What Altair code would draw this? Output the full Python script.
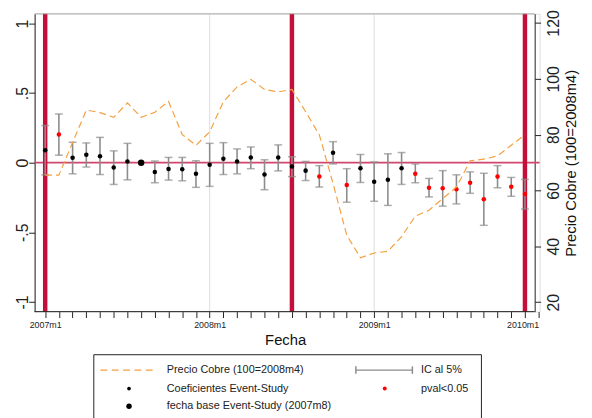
import altair as alt
import pandas as pd

# ---------------- data ----------------
months = list(range(36))  # 0 = 2007m1
coef = [0.09, 0.203, 0.035, 0.057, 0.047, -0.035, 0.009, 0.0, -0.066, -0.045,
        -0.047, -0.08, -0.014, 0.028, 0.009, 0.038, -0.085, 0.038, -0.027, -0.057,
        -0.099, 0.071, -0.161, -0.04, -0.137, -0.123, -0.04, -0.08, -0.18, -0.184,
        -0.191, -0.144, -0.262, -0.10, -0.173, -0.225]
ci_hi = [0.267, 0.35, 0.147, 0.142, 0.182, 0.085, 0.139, None, 0.012, 0.038,
         0.038, 0.014, 0.139, 0.144, 0.099, 0.113, 0.021, 0.128, 0.043, 0.009,
         -0.021, 0.151, -0.043, 0.059, 0.005, 0.064, 0.073, -0.009, -0.113, -0.057,
         -0.087, -0.066, -0.076, -0.021, -0.106, -0.12]
ci_lo = [-0.087, 0.054, -0.08, -0.031, -0.085, -0.156, -0.123, None, -0.144, -0.125,
         -0.13, -0.177, -0.17, -0.085, -0.08, -0.043, -0.194, -0.059, -0.10, -0.128,
         -0.175, -0.009, -0.284, -0.142, -0.277, -0.307, -0.156, -0.144, -0.246, -0.312,
         -0.296, -0.22, -0.45, -0.18, -0.241, -0.333]
significant = [0, 1, 0, 0, 0, 0, 0, 0, 0, 0, 0, 0, 0, 0, 0, 0, 0, 0, 0, 0,
               1, 0, 1, 0, 0, 0, 0, 1, 1, 1, 1, 1, 1, 1, 1, 1]
base_month = 7  # 2007m8
precio = [65.5, 65.5, 77.2, 88.8, 87.9, 86.2, 91.4, 86.2, 88.0, 91.9,
          80.0, 76.2, 81.0, 91.8, 97.1, 99.8, 96.2, 95.3, 96.2, 88.2,
          79.9, 62.5, 44.0, 35.9, 37.6, 38.2, 43.5, 50.8, 52.9, 57.1,
          61.2, 70.6, 71.2, 72.4, 76.2, 80.0]
event_months = [0, 18, 35]
grid_months = [12, 24]
x_tick_labels = ["2007m1", "2008m1", "2009m1", "2010m1"]
y_left_ticks = [-1, -0.5, 0, 0.5, 1]
y_left_labels = ["-1", "-.5", "0", ".5", "1"]
y_right_ticks = [20, 40, 60, 80, 100, 120]
legend_labels = ["Precio Cobre (100=2008m4)", "IC al 5%", "Coeficientes Event-Study",
                 "pval<0.05", "fecha base Event-Study (2007m8)"]

df = pd.DataFrame({"m": months, "coef": coef, "hi": ci_hi, "lo": ci_lo,
                   "sig": significant, "precio": precio})
df_ci = df.dropna(subset=["hi", "lo"])
df_base = df[df["m"] == base_month]
df_ns = df[(df["m"] != base_month) & (df["sig"] == 0)]
df_sig = df[(df["m"] != base_month) & (df["sig"] == 1)]
df_ev = pd.DataFrame({"m": event_months})
df_grid = pd.DataFrame({"m": grid_months})
df_zero = pd.DataFrame({"v": [0]})

FONT = "Liberation Sans"
W, H = 512, 302
ORANGE = "#f5a040"
CRIMSON = "#c40f3a"
GRAY = "#8c8c8c"

label_js = "[" + ",".join("'%s'" % s for s in x_tick_labels) + "]"
x_scale = alt.Scale(domain=[-0.77, 36.07], nice=False, zero=False)
x_axis = alt.Axis(values=list(range(37)), domain=False, grid=False,
                  labelExpr="datum.value % 12 == 0 ? " + label_js + "[datum.value / 12] : ''",
                  labelOverlap=False, labelFont=FONT, labelFontSize=9, labelColor="#222",
                  labelPadding=3, labelBaseline="top", tickSize=6, tickColor="#222",
                  title="Fecha", titleFont=FONT, titleFontSize=15, titleFontWeight="normal",
                  titleColor="#111", titleX=254, titleY=33, titleBaseline="alphabetic",
                  titleAnchor="middle", titleAlign="center")
x_enc = alt.X("m:Q", scale=x_scale, axis=x_axis)

ylab_expr = " : ".join("datum.value == %s ? '%s'" % (v, s)
                       for v, s in zip(y_left_ticks, y_left_labels)) + " : ''"
y_scale = alt.Scale(domain=[-1.07, 1.07], nice=False, zero=False)
y_axis = alt.Axis(values=y_left_ticks, grid=False, domainColor="#222", tickColor="#222",
                  tickSize=6, labelFont=FONT, labelFontSize=16, labelColor="#222",
                  labelAngle=270, labelAlign="center", labelBaseline="alphabetic",
                  labelPadding=1, labelExpr=ylab_expr, labelOverlap=False,
                  title=None)

def ylin(field):
    return alt.Y(field, type="quantitative", scale=y_scale, axis=y_axis)

grid_v = alt.Chart(df_grid).mark_rule(color="#dcdcdc", strokeWidth=1).encode(x=x_enc)
ev_bars = alt.Chart(df_ev).mark_rule(color=CRIMSON, strokeWidth=4.5).encode(x=x_enc)
zero = alt.Chart(df_zero).mark_rule(color="#d0476e", strokeWidth=1.8).encode(y=ylin("v"))
bars = alt.Chart(df_ci).mark_rule(color=GRAY, strokeWidth=1.6).encode(
    x=x_enc, y=ylin("lo"), y2="hi:Q")
cap_hi = alt.Chart(df_ci).mark_tick(color=GRAY, orient="horizontal", size=8,
                                    thickness=1.5).encode(x=x_enc, y=ylin("hi"))
cap_lo = alt.Chart(df_ci).mark_tick(color=GRAY, orient="horizontal", size=8,
                                    thickness=1.5).encode(x=x_enc, y=ylin("lo"))
pts_ns = alt.Chart(df_ns).mark_circle(color="#000000", size=21, opacity=1).encode(
    x=x_enc, y=ylin("coef"))
pts_sig = alt.Chart(df_sig).mark_circle(color="#ff0000", size=21, opacity=1).encode(
    x=x_enc, y=ylin("coef"))
pts_base = alt.Chart(df_base).mark_circle(color="#000000", size=42, opacity=1).encode(
    x=x_enc, y=ylin("coef"))

# top frame line and bottom axis line (plot region ends at the right axis)
top_line = alt.Chart(df_zero).mark_rule(color="#b0b0b0", strokeWidth=1).encode(
    x=alt.value(0), x2=alt.value(507), y=alt.value(0))
bottom_line = alt.Chart(df_zero).mark_rule(color="#222", strokeWidth=1).encode(
    x=alt.value(0), x2=alt.value(507), y=alt.value(H))

left = alt.layer(grid_v, zero, ev_bars, top_line, bottom_line, bars, cap_hi, cap_lo,
                 pts_ns, pts_sig, pts_base)

price = alt.Chart(df).mark_line(color=ORANGE, strokeWidth=1.2, strokeDash=[7, 4]).encode(
    x=x_enc,
    y=alt.Y("precio:Q", scale=alt.Scale(domain=[16.6, 123.3], nice=False, zero=False),
            axis=alt.Axis(orient="right", offset=-5, values=y_right_ticks, grid=False,
                          domainColor="#222", tickColor="#222", tickSize=6,
                          labelFont=FONT, labelFontSize=16, labelColor="#222",
                          labelAngle=270, labelAlign="center",
                          labelBaseline="alphabetic", labelPadding=18,
                          title="Precio Cobre (100=2008m4)", titleFont=FONT,
                          titleFontSize=15, titleFontWeight="normal", titleColor="#111",
                          titleAngle=270, titleX=41, titleY=151, titleAlign="center",
                          titleBaseline="alphabetic")))

# ---------------- legend box (decoration) ----------------
r1, r2, r3 = 361.3, 380, 398
leg = [
    alt.Chart(df_zero).mark_rect(fill="white", stroke="#222", strokeWidth=1).encode(
        x=alt.value(60), x2=alt.value(453), y=alt.value(345.7), y2=alt.value(430)),
    alt.Chart(df_zero).mark_rule(color=ORANGE, strokeWidth=1.2, strokeDash=[7, 4.5]).encode(
        x=alt.value(66.7), x2=alt.value(123), y=alt.value(r1)),
    alt.Chart(df_zero).mark_rule(color=GRAY, strokeWidth=1.5).encode(
        x=alt.value(325.7), x2=alt.value(383), y=alt.value(r1)),
    alt.Chart(df_zero).mark_rule(color=GRAY, strokeWidth=1.5).encode(
        x=alt.value(325.7), y=alt.value(r1 - 3.8), y2=alt.value(r1 + 3.8)),
    alt.Chart(df_zero).mark_rule(color=GRAY, strokeWidth=1.5).encode(
        x=alt.value(383), y=alt.value(r1 - 3.8), y2=alt.value(r1 + 3.8)),
    alt.Chart(df_zero).mark_circle(color="#000", size=14, opacity=1).encode(
        x=alt.value(95.7), y=alt.value(r2)),
    alt.Chart(df_zero).mark_circle(color="#ff0000", size=16, opacity=1).encode(
        x=alt.value(355), y=alt.value(r2)),
    alt.Chart(df_zero).mark_circle(color="#000", size=30, opacity=1).encode(
        x=alt.value(95.7), y=alt.value(r3)),
]
for txt, xx, yy in [(legend_labels[0], 134, r1), (legend_labels[1], 391.7, r1),
                    (legend_labels[2], 134, r2), (legend_labels[3], 391.7, r2),
                    (legend_labels[4], 134, r3)]:
    leg.append(alt.Chart(df_zero).mark_text(align="left", baseline="middle", font=FONT,
                                            fontSize=11, color="#222").encode(
        x=alt.value(xx), y=alt.value(yy), text=alt.value(txt)))

chart = alt.layer(left, price, *leg).resolve_scale(y="independent").properties(
    width=W, height=H,
    autosize=alt.AutoSizeParams(type="none"),
    padding={"left": 27, "top": 3, "right": 45, "bottom": 105},
).configure_view(stroke=None).configure(background="white")

chart.save("out.html", embed_options={"renderer": "svg", "actions": False})
